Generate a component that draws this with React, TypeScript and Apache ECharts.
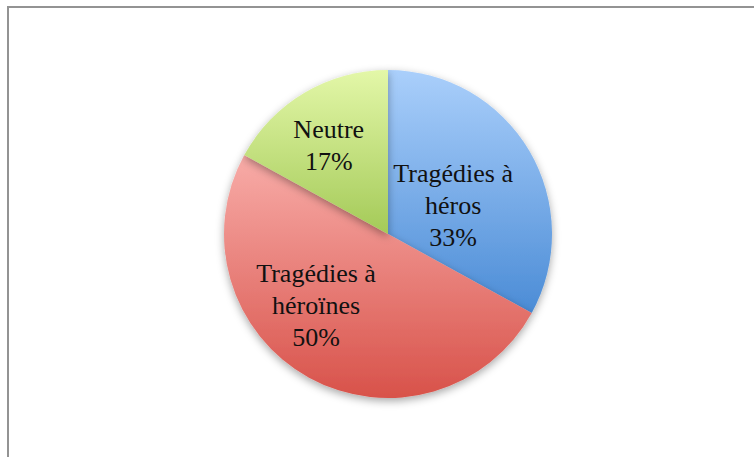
import React, { useEffect, useRef } from "react";
import * as echarts from "echarts";

const categories = ["Tragédies à\nhéros", "Tragédies à\nhéroïnes", "Neutre"];
const values = [33, 50, 17];
const topColors = ["#aacffb", "#f8aca8", "#e3f7a8"];
const bottomColors = ["#4b8cd6", "#d8524a", "#a4ca58"];
const labelOffsets: [number, number][] = [[-8, 15], [-31, -3], [-16, -15]];

export default function App() {
  const ref = useRef<HTMLDivElement>(null);
  useEffect(() => {
    const chart = echarts.init(ref.current!, null, { renderer: "svg" });
    chart.setOption({
      animation: false,
      backgroundColor: "#ffffff",
      graphic: [
        {
          type: "rect",
          shape: { x: 8, y: 7, width: 800, height: 500 },
          style: { fill: "none", stroke: "#939393", lineWidth: 2 },
          silent: true,
        },
      ],
      series: [
        {
          type: "pie",
          center: [388, 234],
          radius: [0, 164],
          startAngle: 90,
          clockwise: true,
          avoidLabelOverlap: false,
          itemStyle: {
            shadowBlur: 8,
            shadowColor: "rgba(0,0,0,0.35)",
            shadowOffsetY: 3,
          },
          label: {
            show: true,
            position: "inside",
            fontFamily: "Liberation Serif",
            fontSize: 26,
            lineHeight: 32,
            color: "#111111",
            align: "center",
            formatter: (p: any) => `${p.name}\n${p.value}%`,
          },
          labelLine: { show: false },
          emphasis: { disabled: true },
          data: categories.map((name, i) => ({
            name,
            value: values[i],
            itemStyle: {
              color: new echarts.graphic.LinearGradient(0, 0, 0, 1, [
                { offset: 0, color: topColors[i] },
                { offset: 1, color: bottomColors[i] },
              ]),
            },
            label: { offset: labelOffsets[i] },
          })),
        },
      ],
    });
    return () => chart.dispose();
  }, []);
  return (
    <div
      ref={ref}
      style={{ position: "fixed", left: 0, top: 0, width: 754, height: 457 }}
    />
  );
}
